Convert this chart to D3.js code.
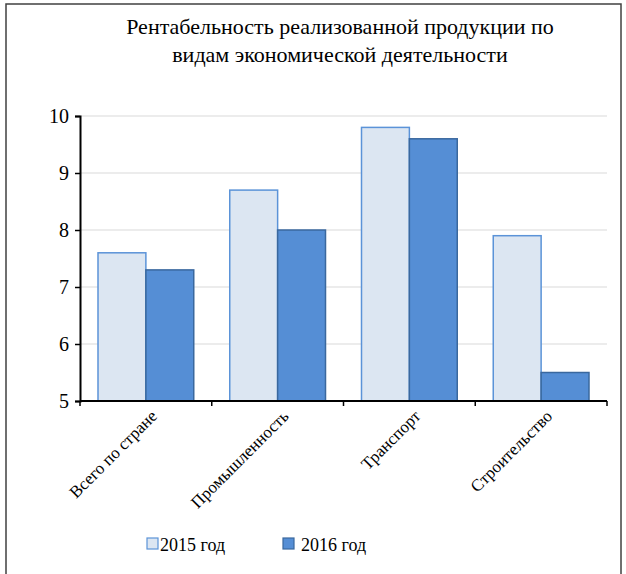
<!DOCTYPE html>
<html>
<head>
<meta charset="utf-8">
<script src="https://cdn.jsdelivr.net/npm/d3@7"></script>
<style>
  body { margin: 0; background: #fff; }
</style>
</head>
<body>
<svg id="chart" width="626" height="574"></svg>
<script>
// данные
let categories = ["Всего по стране", "Промышленность", "Транспорт", "Строительство"]
let values2015 = [7.6, 8.7, 9.8, 7.9]
let values2016 = [7.3, 8.0, 9.6, 5.5]
let seriesNames = ["2015 год", "2016 год"]
let yTicks = [5, 6, 7, 8, 9, 10]

let FONT = "'Liberation Serif', 'Times New Roman', serif"
let svg = d3.select("#chart")

// рамка
svg.append("rect")
    .attr("x", 6).attr("y", 4)
    .attr("width", 615).attr("height", 600)
    .attr("fill", "none")
    .attr("stroke", "#404040")
    .attr("stroke-width", 1.5)

svg.append("text")
    .attr("x", 340).attr("y", 34)
    .attr("text-anchor", "middle")
    .attr("font-size", 22)
    .text("Рентабельность реализованной продукции по")
svg.append("text")
    .attr("x", 340).attr("y", 62)
    .attr("text-anchor", "middle")
    .attr("font-size", 22)
    .text("видам экономической деятельности")

let plotLeft = 80, plotRight = 607, plotTop = 116, plotBottom = 401

let x = d3.scaleBand().domain(categories).range([plotLeft, plotRight]).paddingInner(0).paddingOuter(0)
let y = d3.scaleLinear().domain([5, 10]).range([plotBottom, plotTop])
let barPad = 18
let barW = (x.bandwidth() - barPad * 2) / 2

// сетка
svg.append("g")
    .selectAll("line")
    .data(yTicks.slice(1))
    .enter().append("line")
    .attr("x1", plotLeft).attr("x2", plotRight)
    .attr("y1", d => y(d)).attr("y2", d => y(d))
    .attr("stroke", "#d9d9d9")
    .attr("stroke-width", 1)

let data = categories.map((c, i) => ({ cat: c, v1: values2015[i], v2: values2016[i] }))

svg.append("g").selectAll("rect")
    .data(data)
    .enter().append("rect")
    .attr("x", d => x(d.cat) + barPad)
    .attr("y", d => y(d.v1))
    .attr("width", barW)
    .attr("height", d => plotBottom - y(d.v1))
    .attr("fill", "#dce6f2")
    .attr("stroke", "#5b93d8")
    .attr("stroke-width", 1.5)

svg.append("g").selectAll("rect")
    .data(data)
    .enter().append("rect")
    .attr("x", d => x(d.cat) + barPad + barW)
    .attr("y", d => y(d.v2))
    .attr("width", barW)
    .attr("height", d => plotBottom - y(d.v2))
    .attr("fill", "#558ed5")
    .attr("stroke", "#3a689e")
    .attr("stroke-width", 1.5)

// оси
let yAxis = svg.append("g")
    .attr("transform", "translate(" + plotLeft + ",0)")
    .call(d3.axisLeft(y).tickValues(yTicks).tickFormat(d3.format("d")).tickSize(5).tickPadding(6))
yAxis.select(".domain").attr("stroke", "#000").attr("stroke-width", 2)
yAxis.selectAll(".tick line").attr("stroke", "#000").attr("stroke-width", 1.5)
yAxis.selectAll("text")
    .attr("font-size", 20)
    .attr("fill", "#000")

let xAxis = svg.append("g")
    .attr("transform", "translate(0," + plotBottom + ")")
let bounds = categories.map(c => x(c)).concat([plotRight])
xAxis.append("line")
    .attr("x1", plotLeft).attr("x2", plotRight)
    .attr("y1", 0).attr("y2", 0)
    .attr("stroke", "#000").attr("stroke-width", 2)
xAxis.selectAll(".tk")
    .data(bounds)
    .enter().append("line")
    .attr("x1", d => d).attr("x2", d => d)
    .attr("y1", 0).attr("y2", 5)
    .attr("stroke", "#000").attr("stroke-width", 1.5)

xAxis.selectAll(".lbl")
    .data(categories)
    .enter().append("text")
    .attr("transform", d => "translate(" + (x(d) + x.bandwidth() / 2 + 8) + ",12) rotate(-45)")
    .attr("text-anchor", "end")
    .attr("dy", "0.35em")
    .attr("font-size", 17)
    .text(d => d)

// легенда
let legend = svg.append("g")
let legX = [147, 283]
let legColors = [["#dce6f2", "#5b93d8"], ["#558ed5", "#3a689e"]]
seriesNames.forEach((n, i) => {
    legend.append("rect")
        .attr("x", legX[i]).attr("y", 538)
        .attr("width", 11).attr("height", 11)
        .attr("fill", legColors[i][0])
        .attr("stroke", legColors[i][1])
        .attr("stroke-width", 1.2)
    legend.append("text")
        .attr("x", legX[i] + (i == 0 ? 13 : 18)).attr("y", 551)
        .attr("font-size", 18)
        .text(n)
})

// шрифт для всех подписей
svg.selectAll("text").style("font-family", FONT, "important")
</script>
</body>
</html>
